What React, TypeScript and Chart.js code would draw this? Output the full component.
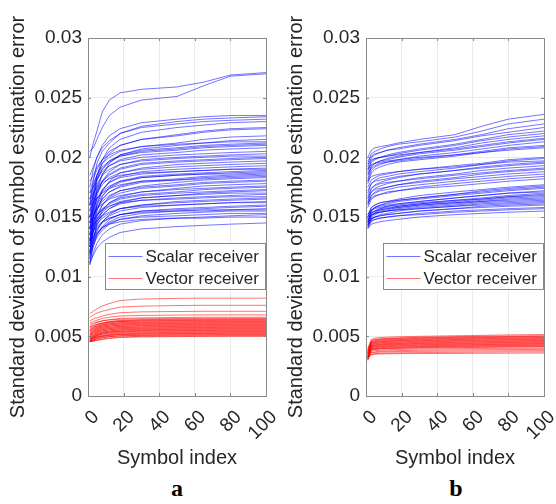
import React, { useEffect, useRef } from 'react';
import { Chart, registerables } from 'chart.js';

Chart.register(...registerables);

// ---------- data ----------
const symbolIndex = [1, 3, 5, 8, 12, 18, 30, 50, 65, 80, 100];
const xTickLabels = ['0', '20', '40', '60', '80', '100'];
const yTickLabels = ['0', '0.005', '0.01', '0.015', '0.02', '0.025', '0.03'];
const legendLabels = ['Scalar receiver', 'Vector receiver'];
const panelLabels = ['a', 'b'];
const xTitle = 'Symbol index';
const yTitle = 'Standard deviation of symbol estimation error';
// all series values below are in units of 1e-4
const VALUE_UNIT = 1e-4;

const scalarA = [
  [200, 212, 222, 238, 248, 254, 257, 259, 263, 269, 271],
  [205, 208, 215, 225, 235, 242, 248, 251, 260, 268, 270],
  [175, 190, 200, 210, 218, 224, 229, 232, 234, 235, 235],
  [160, 180, 195, 205, 212, 220, 226, 230, 232, 233, 234],
  [185, 192, 200, 208, 214, 220, 225, 228, 230, 231, 232],
  [150, 170, 185, 198, 208, 215, 221, 225, 227, 229, 230],
  [170, 182, 190, 198, 205, 210, 215, 219, 222, 224, 225],
  [140, 165, 182, 195, 203, 210, 215, 218, 221, 223, 224],
  [160, 175, 185, 195, 200, 205, 209, 212, 215, 217, 218],
  [130, 155, 172, 185, 195, 202, 207, 210, 212, 214, 215],
  [180, 185, 192, 198, 202, 206, 209, 211, 212, 213, 213],
  [145, 165, 180, 190, 197, 202, 206, 208, 210, 211, 212],
  [155, 170, 182, 190, 196, 201, 205, 207, 209, 210, 211],
  [165, 178, 185, 192, 197, 201, 204, 206, 208, 209, 210],
  [135, 160, 175, 186, 193, 198, 202, 204, 206, 207, 208],
  [170, 175, 182, 188, 193, 197, 200, 202, 203, 204, 205],
  [125, 150, 168, 180, 188, 194, 198, 200, 201, 202, 203],
  [160, 168, 177, 185, 190, 194, 197, 199, 200, 201, 201],
  [140, 158, 170, 180, 186, 191, 195, 197, 198, 199, 200],
  [150, 162, 172, 180, 185, 190, 194, 196, 197, 198, 199],
  [120, 145, 160, 172, 180, 187, 191, 194, 195, 196, 197],
  [155, 163, 170, 177, 183, 187, 190, 192, 193, 194, 195],
  [130, 150, 162, 172, 179, 184, 188, 190, 191, 192, 193],
  [145, 155, 165, 173, 179, 183, 186, 188, 189, 190, 191],
  [165, 170, 175, 179, 182, 185, 187, 188, 189, 190, 190],
  [115, 140, 155, 167, 175, 180, 184, 186, 187, 188, 189],
  [135, 150, 160, 168, 174, 179, 183, 185, 186, 187, 188],
  [150, 157, 165, 171, 176, 180, 183, 185, 186, 186, 187],
  [125, 145, 156, 165, 171, 176, 180, 182, 184, 185, 186],
  [140, 150, 158, 165, 171, 175, 179, 181, 183, 184, 185],
  [160, 162, 166, 170, 174, 177, 180, 181, 182, 183, 184],
  [120, 138, 150, 160, 167, 172, 176, 179, 181, 182, 183],
  [145, 150, 157, 163, 168, 172, 175, 177, 179, 180, 181],
  [130, 142, 152, 160, 166, 170, 174, 176, 178, 179, 180],
  [110, 130, 145, 155, 162, 167, 171, 174, 176, 177, 178],
  [150, 153, 157, 161, 165, 168, 171, 173, 174, 175, 176],
  [125, 138, 148, 156, 162, 166, 169, 171, 173, 174, 175],
  [140, 145, 151, 157, 161, 165, 168, 170, 171, 172, 173],
  [118, 132, 143, 151, 157, 162, 166, 168, 170, 171, 172],
  [135, 142, 148, 154, 159, 163, 166, 168, 169, 170, 170],
  [128, 138, 146, 152, 157, 161, 164, 166, 167, 168, 169],
  [145, 148, 152, 156, 159, 162, 164, 165, 166, 167, 167],
  [115, 128, 138, 146, 152, 157, 160, 163, 164, 165, 166],
  [132, 138, 144, 149, 153, 157, 160, 162, 163, 164, 165],
  [122, 132, 140, 146, 151, 155, 158, 160, 161, 162, 163],
  [140, 143, 147, 151, 154, 157, 159, 160, 161, 162, 162],
  [112, 125, 135, 142, 148, 152, 155, 157, 158, 159, 160],
  [128, 134, 140, 145, 149, 152, 155, 156, 157, 158, 159],
  [120, 128, 135, 141, 146, 150, 153, 155, 156, 156, 157],
  [135, 138, 142, 146, 149, 152, 154, 155, 155, 156, 156],
  [118, 126, 133, 139, 144, 148, 151, 153, 154, 155, 155],
  [125, 130, 136, 141, 145, 148, 150, 151, 152, 153, 153],
  [110, 120, 128, 135, 140, 144, 147, 149, 150, 151, 152],
  [130, 133, 137, 141, 144, 146, 148, 149, 149, 150, 150],
  [112, 118, 124, 129, 133, 137, 140, 142, 143, 144, 145],
];

const vectorA = [
  [69, 71, 73, 75.5, 77.5, 80, 81.3, 81.8, 82, 82, 82],
  [66, 68, 69.5, 71, 72.5, 74.5, 75.3, 75.8, 76, 76, 76],
  [63, 64.5, 65.5, 67, 68.5, 69.8, 70.5, 70.8, 71, 71, 71],
  [61, 62.5, 63.5, 65, 66, 67, 67.5, 67.8, 68, 68, 68],
  [58, 60, 61.5, 63, 64, 65, 65.5, 65.8, 66, 66, 66],
  [60, 61, 62, 63, 63.7, 64.3, 64.7, 64.9, 65, 65, 65],
  [55, 57.5, 59.5, 61, 62.3, 63.3, 64, 64.3, 64.4, 64.5, 64.5],
  [57, 58.5, 60, 61.3, 62.3, 63, 63.5, 63.8, 63.9, 64, 64],
  [54, 56.5, 58.5, 60, 61.3, 62.4, 63, 63.3, 63.4, 63.5, 63.5],
  [58, 59, 60, 61, 61.8, 62.4, 62.7, 62.9, 63, 63, 63],
  [52, 55, 57.5, 59.3, 60.5, 61.5, 62, 62.3, 62.4, 62.5, 62.5],
  [56, 57.5, 58.5, 59.7, 60.5, 61.2, 61.6, 61.8, 61.9, 62, 62],
  [51, 54, 56.5, 58.3, 59.5, 60.5, 61, 61.3, 61.4, 61.5, 61.5],
  [55, 56.5, 57.5, 58.7, 59.5, 60.2, 60.6, 60.8, 60.9, 61, 61],
  [50, 53, 55.5, 57.3, 58.5, 59.5, 60, 60.3, 60.4, 60.5, 60.5],
  [54, 55.5, 56.5, 57.7, 58.5, 59.2, 59.6, 59.8, 59.9, 60, 60],
  [49, 52, 54.5, 56.3, 57.5, 58.5, 59, 59.3, 59.4, 59.5, 59.5],
  [53, 54.5, 55.5, 56.7, 57.5, 58.2, 58.6, 58.8, 58.9, 59, 59],
  [48, 51, 53.5, 55.3, 56.5, 57.5, 58, 58.3, 58.4, 58.5, 58.5],
  [52, 53.5, 54.5, 55.7, 56.5, 57.2, 57.6, 57.8, 57.9, 58, 58],
  [47.5, 50, 52.5, 54.3, 55.5, 56.5, 57, 57.3, 57.4, 57.5, 57.5],
  [51, 52.5, 53.5, 54.7, 55.5, 56.2, 56.6, 56.8, 56.9, 57, 57],
  [47, 49.5, 51.5, 53.3, 54.5, 55.5, 56, 56.3, 56.4, 56.5, 56.5],
  [50, 51.5, 52.5, 53.7, 54.5, 55.2, 55.6, 55.8, 55.9, 56, 56],
  [46.5, 49, 51, 52.5, 53.7, 54.6, 55, 55.3, 55.4, 55.5, 55.5],
  [49, 50.5, 51.5, 52.7, 53.5, 54.2, 54.6, 54.8, 54.9, 55, 55],
  [46, 48.5, 50.5, 52, 53, 53.8, 54.2, 54.4, 54.5, 54.5, 54.5],
  [48.5, 49.5, 50.5, 51.7, 52.5, 53.2, 53.6, 53.8, 53.9, 54, 54],
  [46, 48, 49.5, 50.8, 51.8, 52.6, 53, 53.3, 53.4, 53.5, 53.5],
  [47.5, 48.5, 49.5, 50.5, 51.3, 52, 52.5, 52.8, 52.9, 53, 53],
  [45.5, 47, 48.5, 49.8, 50.8, 51.6, 52, 52.3, 52.4, 52.5, 52.5],
  [47, 48, 49, 50, 50.8, 51.4, 51.7, 51.9, 52, 52, 52],
  [45.5, 46.5, 47.5, 48.7, 49.7, 50.5, 51, 51.3, 51.4, 51.5, 51.5],
  [46, 47, 48, 49, 49.8, 50.4, 50.7, 50.9, 51, 51, 51],
  [45.5, 46, 46.8, 47.8, 48.7, 49.5, 50, 50.3, 50.4, 50.5, 50.5],
  [45.5, 46, 46.5, 47.3, 48.2, 49, 49.5, 49.8, 49.9, 50, 50],
];

const scalarB = [
  [200, 206, 208, 209, 210, 212, 215, 219, 226, 232, 236],
  [195, 203, 205, 207, 209, 211, 213, 217, 222, 228, 232],
  [192, 200, 202, 204, 206, 208, 211, 215, 219, 224, 228],
  [197, 201, 203, 204, 206, 207, 210, 214, 218, 221, 225],
  [188, 196, 198, 200, 202, 204, 207, 211, 215, 219, 222],
  [190, 197, 199, 200, 201, 203, 206, 210, 214, 217, 220],
  [182, 192, 195, 197, 199, 201, 204, 208, 212, 215, 218],
  [194, 198, 199, 200, 201, 202, 204, 207, 210, 213, 216],
  [186, 193, 195, 197, 198, 200, 203, 206, 209, 212, 215],
  [180, 189, 192, 194, 196, 198, 201, 204, 207, 210, 213],
  [185, 191, 193, 195, 196, 197, 199, 202, 205, 208, 210],
  [178, 187, 190, 192, 194, 196, 198, 201, 204, 207, 209],
  [190, 194, 195, 196, 197, 198, 200, 202, 204, 206, 208],
  [175, 181, 183, 185, 186, 188, 190, 193, 195, 198, 200],
  [170, 178, 181, 183, 184, 186, 188, 191, 194, 197, 199],
  [180, 184, 185, 186, 187, 188, 190, 192, 194, 196, 197],
  [166, 174, 177, 179, 181, 183, 186, 189, 192, 194, 196],
  [172, 178, 180, 181, 182, 184, 186, 189, 191, 193, 195],
  [163, 171, 174, 176, 178, 180, 183, 186, 189, 191, 193],
  [168, 174, 176, 178, 179, 180, 182, 185, 187, 189, 191],
  [160, 168, 171, 173, 175, 177, 180, 183, 186, 188, 190],
  [165, 171, 173, 174, 175, 177, 179, 182, 184, 186, 188],
  [162, 168, 170, 172, 173, 175, 177, 180, 182, 184, 186],
  [158, 165, 167, 169, 171, 172, 175, 178, 180, 182, 184],
  [161, 166, 168, 169, 170, 172, 174, 176, 178, 180, 182],
  [150, 158, 160, 162, 163, 165, 168, 171, 173, 175, 177],
  [146, 155, 158, 160, 162, 164, 166, 169, 172, 174, 176],
  [152, 158, 160, 162, 163, 164, 166, 169, 171, 173, 175],
  [148, 155, 158, 160, 161, 163, 165, 168, 170, 172, 174],
  [145, 153, 155, 157, 159, 161, 163, 166, 168, 170, 172],
  [150, 156, 158, 159, 160, 161, 163, 166, 168, 170, 171],
  [143, 151, 154, 156, 157, 159, 161, 164, 166, 168, 170],
  [147, 153, 155, 157, 158, 159, 161, 163, 165, 167, 169],
  [152, 156, 157, 158, 159, 160, 162, 164, 165, 167, 168],
  [144, 151, 153, 155, 156, 158, 160, 162, 164, 166, 167],
  [149, 154, 155, 156, 157, 158, 160, 162, 163, 165, 166],
  [142, 149, 152, 154, 155, 157, 159, 161, 163, 164, 165],
  [146, 151, 153, 154, 155, 156, 158, 160, 162, 163, 164],
  [141, 148, 150, 152, 153, 155, 157, 159, 161, 162, 163],
  [148, 152, 153, 154, 155, 156, 157, 159, 160, 161, 162],
  [143, 148, 150, 151, 152, 153, 155, 157, 159, 160, 161],
  [145, 149, 150, 151, 152, 153, 155, 157, 158, 159, 160],
  [141, 146, 148, 149, 150, 151, 153, 155, 156, 157, 158],
  [144, 147, 148, 149, 150, 151, 152, 154, 155, 156, 157],
  [140, 144, 145, 146, 147, 148, 150, 152, 153, 154, 155],
];

const vectorB = [
  [40, 47.5, 48.5, 49, 49.3, 49.6, 50, 50.5, 50.8, 51.2, 51.5],
  [38, 46.5, 47.5, 48, 48.3, 48.7, 49.2, 49.7, 50, 50.3, 50.5],
  [36, 46, 47, 47.5, 48, 48.3, 48.8, 49.2, 49.5, 49.8, 50],
  [39, 45.5, 46.5, 47, 47.5, 47.8, 48.3, 48.8, 49, 49.3, 49.5],
  [35, 45, 46, 46.5, 47, 47.3, 47.8, 48.3, 48.6, 48.8, 49],
  [37, 44.5, 45.5, 46, 46.4, 46.8, 47.3, 47.8, 48.1, 48.3, 48.5],
  [33, 44, 45, 45.5, 46, 46.3, 46.8, 47.3, 47.6, 47.8, 48],
  [38, 44, 44.8, 45.2, 45.6, 46, 46.4, 46.9, 47.1, 47.3, 47.5],
  [34, 43, 44, 44.6, 45, 45.4, 45.9, 46.4, 46.6, 46.8, 47],
  [36, 43, 43.8, 44.2, 44.6, 45, 45.4, 45.9, 46.1, 46.3, 46.5],
  [31, 42, 43, 43.6, 44, 44.4, 44.9, 45.4, 45.6, 45.8, 46],
  [35, 42, 42.7, 43.2, 43.6, 44, 44.4, 44.9, 45.1, 45.3, 45.5],
  [32, 41.5, 42.3, 42.8, 43.2, 43.5, 44, 44.4, 44.6, 44.8, 45],
  [37, 41.5, 42, 42.4, 42.8, 43.1, 43.5, 43.9, 44.1, 44.3, 44.5],
  [30, 40.5, 41.3, 41.8, 42.2, 42.6, 43, 43.4, 43.6, 43.8, 44],
  [34, 40.5, 41, 41.4, 41.8, 42.1, 42.5, 42.9, 43.1, 43.3, 43.5],
  [32, 40, 40.6, 41, 41.4, 41.7, 42.1, 42.5, 42.7, 42.9, 43],
  [36, 39.5, 40, 40.4, 40.8, 41.1, 41.5, 41.9, 42.1, 42.3, 42.5],
  [31, 39, 39.6, 40, 40.4, 40.7, 41.1, 41.5, 41.7, 41.9, 42],
  [33, 38.5, 39.2, 39.6, 39.9, 40.2, 40.6, 41, 41.2, 41.4, 41.5],
  [35, 38.5, 39, 39.3, 39.6, 39.9, 40.2, 40.5, 40.7, 40.9, 41],
  [30, 37.5, 38, 38.4, 38.7, 39, 39.3, 39.6, 39.8, 39.9, 40],
  [32, 36.5, 37, 37.4, 37.7, 38, 38.3, 38.6, 38.8, 38.9, 39],
  [34, 36, 36.5, 36.8, 37, 37.2, 37.4, 37.6, 37.8, 37.9, 38],
  [31, 35, 35.5, 35.8, 36, 36.2, 36.4, 36.6, 36.8, 36.9, 37],
  [33, 34.5, 35, 35.2, 35.4, 35.5, 35.6, 35.7, 35.8, 35.9, 36],
];

// ---------- styles ----------
const FONT = "'Liberation Sans', Arial, sans-serif";
const TEXT = '#262626';
const AXIS = '#8a8a8a';
const GRID = '#ebebeb';
const BLUE = 'rgba(0,0,255,0.55)';
const RED = 'rgba(255,0,0,0.55)';
const CANVAS_W = 278;
const CANVAS_H = 470;

const framePlugin = {
  id: 'matlabFrame',
  afterDatasetsDraw(chart: any) {
    const { ctx, chartArea: ca, scales } = chart;
    ctx.save();
    ctx.strokeStyle = AXIS;
    ctx.lineWidth = 1;
    const tl = 3;
    ctx.beginPath();
    scales.x.ticks.forEach((t: any) => {
      const px = Math.round(scales.x.getPixelForValue(t.value)) + 0.5;
      ctx.moveTo(px, ca.bottom); ctx.lineTo(px, ca.bottom - tl);
      ctx.moveTo(px, ca.top); ctx.lineTo(px, ca.top + tl);
    });
    scales.y.ticks.forEach((t: any) => {
      const py = Math.round(scales.y.getPixelForValue(t.value)) + 0.5;
      ctx.moveTo(ca.left, py); ctx.lineTo(ca.left + tl, py);
      ctx.moveTo(ca.right, py); ctx.lineTo(ca.right - tl, py);
    });
    ctx.stroke();
    ctx.strokeRect(Math.round(ca.left) + 0.5, Math.round(ca.top) + 0.5,
      Math.round(ca.right - ca.left), Math.round(ca.bottom - ca.top));
    // legend
    const bx = Math.round(ca.left) + 17.5;
    const by = Math.round(ca.top) + 205.5;
    const bw = Math.round(ca.right - ca.left) - 18;
    const bh = 46;
    ctx.fillStyle = '#ffffff';
    ctx.fillRect(bx, by, bw, bh);
    ctx.strokeStyle = AXIS;
    ctx.strokeRect(bx, by, bw, bh);
    [BLUE, RED].forEach((c, i) => {
      const ry = by + 13 + i * 22;
      ctx.strokeStyle = c;
      ctx.beginPath();
      ctx.moveTo(bx + 3, ry); ctx.lineTo(bx + 37, ry);
      ctx.stroke();
      ctx.fillStyle = TEXT;
      ctx.font = `17px ${FONT}`;
      ctx.textBaseline = 'middle';
      ctx.textAlign = 'left';
      ctx.fillText(legendLabels[i], bx + 40, ry + 1);
    });
    ctx.restore();
  },
};

function Panel({ scalar, vector, left }: { scalar: number[][]; vector: number[][]; left: number }) {
  const ref = useRef<HTMLCanvasElement | null>(null);
  useEffect(() => {
    const toData = (vals: number[]) => vals.map((v, i) => ({ x: symbolIndex[i], y: v * VALUE_UNIT }));
    const datasets = [
      ...scalar.map((v) => ({
        label: legendLabels[0], data: toData(v), borderColor: BLUE, borderWidth: 1,
        pointRadius: 0, fill: false, tension: 0,
      })),
      ...vector.map((v) => ({
        label: legendLabels[1], data: toData(v), borderColor: RED, borderWidth: 1,
        pointRadius: 0, fill: false, tension: 0,
      })),
    ];
    const chart = new Chart(ref.current as HTMLCanvasElement, {
      type: 'line',
      data: { datasets },
      options: {
        animation: false,
        responsive: false,
        events: [],
        layout: { padding: { top: 38, right: 12, left: 0, bottom: 0 } },
        plugins: { legend: { display: false }, tooltip: { enabled: false } },
        scales: {
          x: {
            type: 'linear', min: 0, max: 100,
            border: { display: false },
            grid: { color: GRID, drawTicks: false },
            ticks: {
              stepSize: 20, maxRotation: 45, minRotation: 45, autoSkip: false,
              padding: 10, labelOffset: 8, color: TEXT,
              font: { family: FONT, size: 19 },
              callback: (_v: any, i: number) => xTickLabels[i],
            },
            title: {
              display: true, text: xTitle, color: TEXT,
              font: { family: FONT, size: 20 }, padding: { top: 0, bottom: 0 },
            },
            afterFit: (s: any) => { s.height = 74; s.paddingLeft = 0; s.paddingRight = 0; },
          },
          y: {
            type: 'linear', min: 0, max: 0.03,
            border: { display: false },
            grid: { color: GRID, drawTicks: false },
            ticks: {
              stepSize: 0.005, padding: 6, color: TEXT,
              font: { family: FONT, size: 19 },
              callback: (_v: any, i: number) => yTickLabels[i],
            },
            title: {
              display: true, text: yTitle, color: TEXT,
              font: { family: FONT, size: 20 }, padding: { top: 6, bottom: 0 },
            },
            afterFit: (s: any) => { s.width = 88; s.paddingTop = 0; s.paddingBottom = 0; },
          },
        },
      } as any,
      plugins: [framePlugin],
    });
    return () => chart.destroy();
  }, [scalar, vector]);
  return (
    <canvas
      ref={ref}
      width={CANVAS_W}
      height={CANVAS_H}
      style={{ position: 'absolute', left, top: 0, width: CANVAS_W, height: CANVAS_H }}
    />
  );
}

export default function App() {
  const labelStyle: React.CSSProperties = {
    position: 'absolute', top: 474, width: 40, textAlign: 'center',
    fontFamily: "'Liberation Serif', 'Times New Roman', serif", fontWeight: 'bold',
    fontSize: 24, color: '#000', lineHeight: '28px',
  };
  return (
    <div style={{ position: 'absolute', left: 0, top: 0, width: 556, height: 504, background: '#fff', overflow: 'hidden' }}>
      <Panel scalar={scalarA} vector={vectorA} left={0} />
      <Panel scalar={scalarB} vector={vectorB} left={278} />
      <div style={{ ...labelStyle, left: 157 }}>{panelLabels[0]}</div>
      <div style={{ ...labelStyle, left: 436 }}>{panelLabels[1]}</div>
    </div>
  );
}
